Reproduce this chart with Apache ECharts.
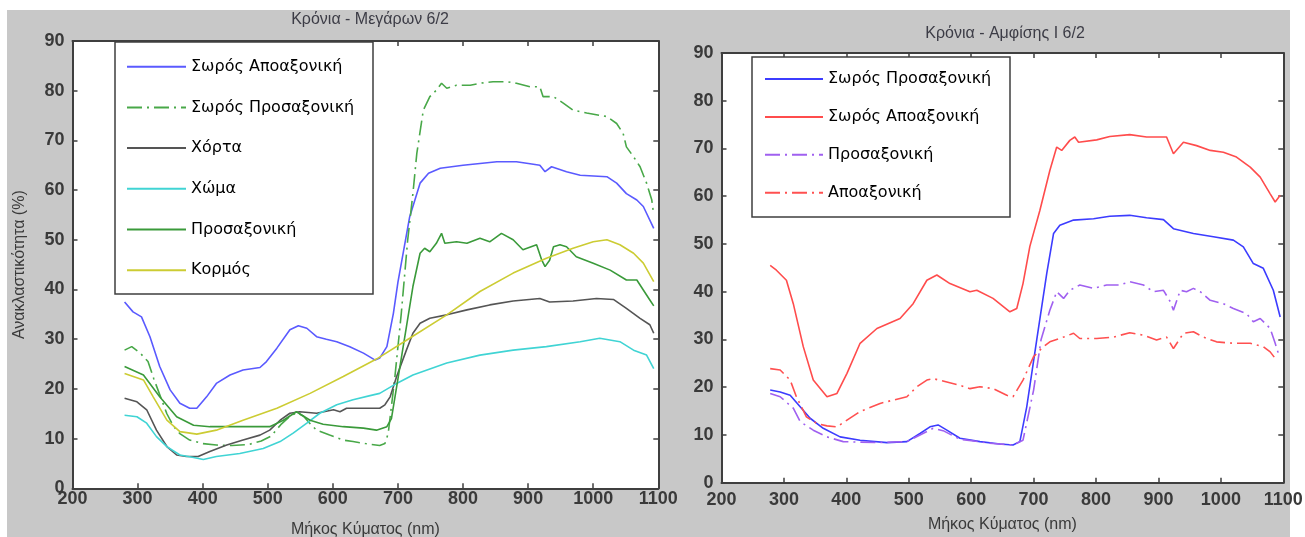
<!DOCTYPE html>
<html>
<head>
<meta charset="utf-8">
<script src="https://cdn.jsdelivr.net/npm/echarts@6/dist/echarts.min.js"></script>
<style>
  html, body { margin: 0; padding: 0; background: #ffffff; }
  #chart { width: 1305px; height: 537px; }
</style>
</head>
<body>
<div id="chart"></div>
<script>
// Reflectance spectra (wavelength nm, reflectance %) — Κρόνια, two sites.

// ---- Κρόνια - Μεγάρων 6/2 ----
const megSorosApo = [[280,37.5],[293,35.5],[306,34.5],[319,30.5],[334,24.5],[350,19.8],[365,17.1],[380,16.1],[391,16.1],[406,18.4],[421,21.1],[442,22.8],[462,23.8],[488,24.3],[498,25.5],[514,28.2],[534,31.9],[547,32.7],[560,32.2],[575,30.5],[590,30.0],[606,29.5],[626,28.5],[647,27.2],[665,25.8],[672,26.2],[683,28.5],[693,35.2],[700,41.5],[718,54.6],[734,61.4],[747,63.4],[765,64.4],[800,65.0],[852,65.7],[882,65.7],[903,65.3],[918,65.0],[926,63.7],[936,64.7],[959,63.7],[980,63.0],[1021,62.7],[1036,61.4],[1051,59.3],[1067,58.0],[1077,56.7],[1093,52.3]];
const megSorosPros = [[280,27.8],[291,28.5],[304,27.2],[316,25.5],[325,22.0],[335,18.5],[345,15.0],[355,12.5],[365,11.0],[380,9.7],[400,9.0],[421,8.7],[445,8.6],[470,8.8],[490,9.5],[505,10.5],[520,12.8],[535,14.6],[545,15.2],[555,14.5],[565,13.0],[575,11.7],[595,10.7],[616,9.7],[631,9.4],[650,9.0],[672,8.6],[680,9.0],[685,11.0],[695,22.0],[705,35.0],[715,50.0],[723,59.3],[729,67.4],[739,76.1],[749,78.8],[759,80.1],[767,81.5],[775,80.5],[790,81.1],[811,81.1],[826,81.5],[846,81.8],[867,81.8],[882,81.5],[903,80.8],[918,80.8],[923,78.8],[939,78.8],[954,77.5],[969,76.1],[990,75.5],[1021,74.8],[1036,73.4],[1046,71.4],[1051,68.7],[1062,66.7],[1072,64.7],[1082,61.4],[1090,58.0],[1093,55.0]];
const megXorta = [[280,18.1],[299,17.4],[314,15.8],[329,11.7],[345,8.4],[360,6.7],[375,6.4],[393,6.4],[411,7.4],[437,8.7],[462,9.7],[488,10.7],[503,11.7],[519,13.7],[534,15.1],[549,15.4],[575,15.1],[601,15.8],[611,15.4],[621,16.1],[672,16.1],[680,16.8],[688,18.4],[698,22.5],[713,27.8],[723,31.2],[734,33.2],[749,34.2],[775,34.9],[806,35.9],[841,36.9],[877,37.7],[918,38.2],[933,37.5],[969,37.7],[1005,38.2],[1031,38.0],[1051,36.2],[1072,34.2],[1087,32.9],[1093,31.2]];
const megXoma = [[280,14.7],[299,14.4],[314,13.1],[329,10.4],[345,8.4],[365,6.7],[386,6.2],[401,5.8],[421,6.4],[457,7.0],[493,8.0],[519,9.4],[539,11.1],[560,13.1],[580,15.1],[606,16.8],[631,17.8],[662,18.8],[672,19.1],[698,21.1],[723,22.8],[775,25.2],[826,26.8],[877,27.8],[928,28.5],[980,29.5],[1010,30.2],[1041,29.5],[1062,27.8],[1082,26.8],[1093,24.1]];
const megPros = [[280,24.5],[309,22.8],[334,18.4],[360,14.4],[386,12.7],[411,12.4],[462,12.4],[503,12.4],[524,13.7],[544,15.4],[565,13.7],[585,12.9],[616,12.4],[647,12.1],[667,11.7],[683,12.4],[690,14.0],[700,22.0],[713,32.5],[723,40.6],[734,47.3],[741,48.3],[749,47.6],[759,49.3],[767,51.3],[772,49.3],[790,49.6],[806,49.3],[826,50.3],[841,49.6],[859,51.3],[877,50.0],[892,48.0],[913,49.0],[921,45.9],[926,44.6],[933,45.9],[939,48.6],[949,49.0],[959,48.6],[974,46.6],[1000,45.3],[1026,43.9],[1051,41.9],[1067,41.9],[1077,39.9],[1087,37.9],[1093,36.7]];
const megKormos = [[280,23.1],[309,21.8],[324,18.4],[345,13.7],[365,11.4],[391,10.9],[421,11.7],[462,13.7],[514,16.1],[565,19.1],[616,22.5],[667,26.0],[718,30.2],[775,34.9],[826,39.6],[877,43.3],[928,46.3],[969,48.3],[1000,49.6],[1021,50.0],[1041,49.0],[1062,47.3],[1077,45.3],[1093,41.6]];

// ---- Κρόνια - Αμφίσης Ι 6/2 ----
const amfSorosPros = [[278,19.4],[294,19.0],[310,18.3],[326,15.9],[342,13.5],[363,11.4],[390,9.6],[422,8.9],[465,8.4],[497,8.6],[518,10.3],[534,11.7],[547,12.1],[561,11.0],[582,9.3],[614,8.6],[646,8.1],[667,7.9],[678,8.6],[689,15.9],[705,29.9],[721,43.8],[732,52.2],[742,53.9],[764,55.0],[796,55.3],[822,55.8],[854,56.0],[881,55.5],[908,55.1],[924,53.2],[956,52.2],[988,51.5],[1020,50.8],[1036,49.4],[1052,45.9],[1068,44.9],[1084,40.3],[1095,34.7]];
const amfSorosApo = [[278,45.5],[288,44.5],[304,42.4],[315,37.5],[331,28.5],[347,21.5],[369,18.0],[385,18.7],[401,22.9],[422,29.2],[449,32.3],[486,34.4],[507,37.5],[529,42.4],[545,43.5],[566,41.7],[598,40.0],[609,40.3],[635,38.6],[662,35.8],[673,36.5],[683,41.7],[694,49.5],[710,57.0],[726,65.4],[737,70.3],[745,69.6],[758,71.7],[766,72.4],[772,71.3],[801,71.8],[822,72.5],[854,72.9],[881,72.4],[913,72.4],[924,68.9],[940,71.3],[961,70.6],[983,69.6],[1004,69.2],[1025,68.2],[1047,66.1],[1063,64.0],[1079,60.5],[1087,58.8],[1095,60.2]];
const amfPros = [[278,18.7],[294,18.0],[315,15.6],[326,12.8],[347,11.0],[369,9.6],[395,8.6],[449,8.4],[497,8.6],[518,10.0],[539,11.4],[555,10.9],[582,9.1],[635,8.2],[667,7.9],[683,8.9],[700,19.4],[712,30.0],[726,36.1],[737,40.0],[748,38.6],[758,40.3],[774,41.4],[796,40.7],[817,41.4],[838,41.4],[854,42.1],[876,41.4],[892,40.0],[908,40.3],[919,37.9],[924,36.1],[935,40.3],[945,40.0],[956,40.7],[967,40.0],[983,38.2],[1004,37.5],[1020,36.5],[1041,35.4],[1052,33.7],[1063,34.4],[1079,32.3],[1087,29.2],[1092,27.1]];
const amfApo = [[278,23.9],[294,23.6],[310,21.5],[320,18.0],[336,13.8],[353,12.4],[369,11.9],[385,11.7],[401,13.1],[422,14.9],[454,16.6],[475,17.3],[497,18.0],[513,20.1],[529,21.5],[539,21.8],[561,21.1],[582,20.4],[598,19.7],[614,20.1],[635,19.7],[657,18.3],[667,18.0],[683,21.5],[700,26.4],[714,28.3],[726,29.5],[748,30.5],[764,31.3],[774,30.2],[801,30.2],[828,30.5],[854,31.4],[876,30.9],[897,29.9],[913,30.5],[924,28.1],[940,31.3],[956,31.6],[972,30.5],[993,29.5],[1020,29.2],[1047,29.2],[1068,28.5],[1079,27.4],[1089,25.7]];

// Axis ranges
const xMin = 200, xMax = 1100, xStep = 100;
const yMin = 0, yMax = 90, yStep = 10;

// Titles and labels
const titleLeft = 'Κρόνια - Μεγάρων 6/2';
const titleRight = 'Κρόνια - Αμφίσης Ι 6/2';
const xName = 'Μήκος Κύματος (nm)';
const yName = 'Ανακλαστικότητα (%)';

const legendLeftNames = ['Σωρός Αποαξονική', 'Σωρός Προσαξονική', 'Χόρτα', 'Χώμα', 'Προσαξονική', 'Κορμός'];
const legendRightNames = ['Σωρός Προσαξονική', 'Σωρός Αποαξονική', 'Προσαξονική', 'Αποαξονική'];

// Series keys carry a site tag after '@' so that both legends can list the same label
const tagL = '@Μεγάρων', tagR = '@Αμφίσης';

const FONT = '"Liberation Sans", Arial, sans-serif';
const LEGEND_FONT = '"DejaVu Sans", sans-serif';
const AXIS_COLOR = '#3f3f3f';
const LABEL_COLOR = '#3a3a3a';
const plain = v => String(v);

function mainX(gridIndex, margin, gap) {
  return {
    type: 'value', gridIndex, min: xMin, max: xMax, interval: xStep, position: 'bottom',
    axisLine: { show: true, onZero: false, lineStyle: { color: AXIS_COLOR, width: 2 } },
    axisTick: { show: true, inside: true, length: 5, lineStyle: { color: AXIS_COLOR, width: 1.5 } },
    axisLabel: { show: true, margin, formatter: plain, color: LABEL_COLOR, fontSize: 18, fontWeight: 'bold', fontFamily: FONT },
    splitLine: { show: false },
    name: xName, nameLocation: 'middle', nameGap: gap,
    nameTextStyle: { color: LABEL_COLOR, fontSize: 16, fontFamily: FONT }
  };
}
function mirrorX(gridIndex) {
  return {
    type: 'value', gridIndex, min: xMin, max: xMax, interval: xStep, position: 'top',
    axisLine: { show: true, onZero: false, lineStyle: { color: AXIS_COLOR, width: 2 } },
    axisTick: { show: true, inside: true, length: 5, lineStyle: { color: AXIS_COLOR, width: 1.5 } },
    axisLabel: { show: false }, splitLine: { show: false }
  };
}
function mainY(gridIndex, withName) {
  const ax = {
    type: 'value', gridIndex, min: yMin, max: yMax, interval: yStep, position: 'left',
    axisLine: { show: true, onZero: false, lineStyle: { color: AXIS_COLOR, width: 2 } },
    axisTick: { show: true, inside: true, length: 5, lineStyle: { color: AXIS_COLOR, width: 1.5 } },
    axisLabel: { show: true, margin: 8, formatter: plain, color: LABEL_COLOR, fontSize: 18, fontWeight: 'bold', fontFamily: FONT },
    splitLine: { show: false }
  };
  if (withName) {
    ax.name = yName; ax.nameLocation = 'middle'; ax.nameGap = 45;
    ax.nameTextStyle = { color: LABEL_COLOR, fontSize: 16, fontFamily: FONT };
  }
  return ax;
}
function mirrorY(gridIndex) {
  return {
    type: 'value', gridIndex, min: yMin, max: yMax, interval: yStep, position: 'right',
    axisLine: { show: true, onZero: false, lineStyle: { color: AXIS_COLOR, width: 2 } },
    axisTick: { show: true, inside: true, length: 5, lineStyle: { color: AXIS_COLOR, width: 1.5 } },
    axisLabel: { show: false }, splitLine: { show: false }
  };
}

function line(name, data, axis, color, type) {
  return {
    type: 'line', name, data, xAxisIndex: axis, yAxisIndex: axis,
    symbol: 'none', smooth: false, silent: true, animation: false,
    lineStyle: { color, width: 1.6, type: type || 'solid' },
    itemStyle: { color }
  };
}

const dashDot = [15, 5, 2, 5];

function legendBox(names, tag, left, top, itemWidth, gap) {
  return {
    data: names.map(n => n + tag),
    formatter: n => n.split('@')[0],
    orient: 'vertical', left, top, padding: 0, itemWidth, itemHeight: 20, itemGap: gap,
    selectedMode: false, z: 20,
    itemStyle: { opacity: 0 },
    textStyle: { color: '#000000', fontSize: 16, fontFamily: LEGEND_FONT, lineHeight: 20 }
  };
}

const chart = echarts.init(document.getElementById('chart'), null, { renderer: 'canvas' });
chart.setOption({
  backgroundColor: '#ffffff',
  animation: false,
  graphic: [
    { type: 'rect', z: -10, silent: true, shape: { x: 7, y: 10, width: 1283, height: 527 }, style: { fill: '#c8c8c8' } },
    { type: 'rect', z: 10, silent: true, shape: { x: 115, y: 42, width: 258, height: 252 }, style: { fill: '#ffffff', stroke: AXIS_COLOR, lineWidth: 1.5 } },
    { type: 'rect', z: 10, silent: true, shape: { x: 752, y: 57, width: 258, height: 160 }, style: { fill: '#ffffff', stroke: AXIS_COLOR, lineWidth: 1.5 } }
  ],
  title: [
    { text: titleLeft, left: 365, top: 7, textAlign: 'center', textStyle: { color: '#3c3c46', fontSize: 16, fontWeight: 'normal', fontFamily: FONT } },
    { text: titleRight, left: 1000, top: 21, textAlign: 'center', textStyle: { color: '#3c3c46', fontSize: 16, fontWeight: 'normal', fontFamily: FONT } }
  ],
  grid: [
    { left: 72.5, right: 1305 - 658.3, top: 41, bottom: 537 - 488.3, containLabel: false, outerBoundsMode: 'none', show: true, backgroundColor: '#ffffff', borderWidth: 0 },
    { left: 721.5, right: 1305 - 1283.3, top: 53, bottom: 537 - 482.7, containLabel: false, outerBoundsMode: 'none', show: true, backgroundColor: '#ffffff', borderWidth: 0 }
  ],
  xAxis: [mainX(0, 2, 33), mirrorX(0), mainX(1, 8, 34), mirrorX(1)],
  yAxis: [mainY(0, true), mirrorY(0), mainY(1, false), mirrorY(1)],
  legend: [
    legendBox(legendLeftNames, tagL, 126, 56.7, 59, 20.7),
    legendBox(legendRightNames, tagR, 764, 69, 58, 17.9)
  ],
  series: [
    line('Σωρός Αποαξονική' + tagL, megSorosApo, 0, '#5a5aff'),
    line('Σωρός Προσαξονική' + tagL, megSorosPros, 0, '#48a848', dashDot),
    line('Χόρτα' + tagL, megXorta, 0, '#555555'),
    line('Χώμα' + tagL, megXoma, 0, '#40d4d4'),
    line('Προσαξονική' + tagL, megPros, 0, '#3a9a3a'),
    line('Κορμός' + tagL, megKormos, 0, '#cccc33'),
    line('Σωρός Προσαξονική' + tagR, amfSorosPros, 2, '#3c3cff'),
    line('Σωρός Αποαξονική' + tagR, amfSorosApo, 2, '#ff4c4c'),
    line('Προσαξονική' + tagR, amfPros, 2, '#a060f0', dashDot),
    line('Αποαξονική' + tagR, amfApo, 2, '#ff5050', dashDot)
  ]
});
</script>
</body>
</html>
